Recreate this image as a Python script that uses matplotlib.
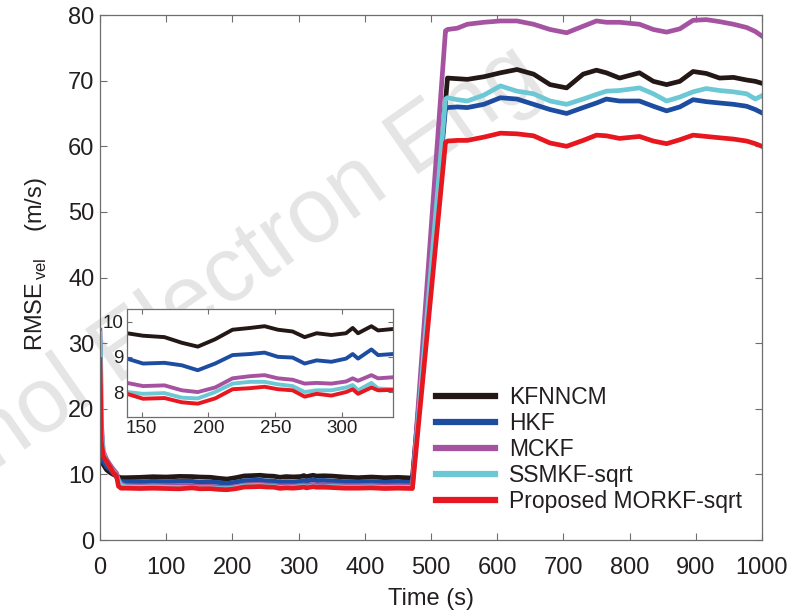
import matplotlib
matplotlib.use('Agg')
import matplotlib.pyplot as plt

plt.rcParams['font.family'] = ['Liberation Sans', 'DejaVu Sans']
plt.rcParams['mathtext.fontset'] = 'custom'
plt.rcParams['mathtext.rm'] = 'Liberation Sans'

# time grid (s): start transient, inset window, before jump, jump, after jump
t = [0, 1, 2, 5, 10, 15, 20, 25, 28, 32, 40, 60, 80, 100, 120,
     139, 151, 167, 180, 192, 205, 218, 231, 242, 252, 263, 272, 281, 292, 303, 308, 312, 322, 327, 338,
     350, 370, 390, 410, 430, 450, 472,
     522,
     525, 540, 555, 580, 605, 630, 655, 680, 705, 730, 750, 765, 785, 815, 836, 856, 876, 896, 916, 936, 957, 977, 990, 1000]

kfnncm = [25, 17, 13, 11.5, 10.7, 10.3, 10.0, 9.8, 9.6, 9.5, 9.5, 9.55, 9.65, 9.6, 9.7,
          9.67, 9.6, 9.56, 9.4, 9.29, 9.5, 9.77, 9.82, 9.87, 9.77, 9.72, 9.56, 9.67, 9.62, 9.67, 9.82, 9.67, 9.87, 9.75, 9.79,
          9.75, 9.6, 9.5, 9.6, 9.5, 9.55, 9.45,
          66.8,
          70.4, 70.3, 70.2, 70.6, 71.2, 71.7, 71.0, 69.4, 68.9, 71.0, 71.6, 71.2, 70.4, 71.2, 69.9, 69.4, 69.9, 71.4, 71.1, 70.4, 70.5, 70.1, 69.9, 69.6]

hkf = [29, 20, 14, 12, 11.2, 10.8, 10.2, 9.6, 9.2, 8.9, 8.9, 8.85, 8.95, 8.9, 8.95,
       8.95, 8.81, 8.83, 8.76, 8.62, 8.81, 9.05, 9.08, 9.12, 9.0, 8.98, 8.81, 8.9, 8.86, 8.95, 9.08, 8.95, 9.21, 9.05, 9.08,
       9.0, 8.9, 8.85, 8.9, 8.8, 8.85, 8.8,
       65.8,
       65.9, 66.0, 65.9, 66.4, 67.4, 67.2, 66.4, 65.6, 65.0, 65.9, 66.6, 67.2, 66.9, 66.9, 66.1, 65.4, 66.0, 67.1, 66.8, 66.6, 66.4, 66.1, 65.6, 65.1]

mckf = [32, 28, 18, 13.5, 12.3, 11.5, 10.8, 10.2, 9.2, 8.5, 8.3, 8.25, 8.3, 8.3, 8.25,
        8.26, 8.17, 8.19, 8.05, 8.0, 8.13, 8.39, 8.45, 8.48, 8.39, 8.35, 8.24, 8.26, 8.24, 8.3, 8.39, 8.32, 8.48, 8.39, 8.42,
        8.4, 8.3, 8.3, 8.35, 8.25, 8.3, 8.25,
        77.6,
        77.8, 78.0, 78.6, 78.9, 79.1, 79.1, 78.6, 77.8, 77.3, 78.3, 79.1, 78.9, 78.9, 78.6, 77.8, 77.4, 77.9, 79.2, 79.3, 79.0, 78.6, 78.1, 77.5, 76.8]

ssmkf = [31.5, 27, 17, 13.2, 12.0, 11.2, 10.5, 9.9, 9.0, 8.3, 8.1, 8.05, 8.1, 8.05, 8.0,
         8.0, 7.95, 7.97, 7.84, 7.82, 8.0, 8.24, 8.29, 8.29, 8.22, 8.17, 8.0, 8.05, 8.05, 8.13, 8.2, 8.05, 8.26, 8.1, 8.08,
         8.15, 8.05, 8.05, 8.1, 8.0, 8.05, 8.0,
         67.2,
         67.4, 67.1, 66.9, 67.8, 69.2, 68.4, 68.0, 66.9, 66.4, 67.2, 67.9, 68.4, 68.5, 68.9, 68.0, 66.9, 67.5, 68.3, 68.8, 68.5, 68.3, 68.0, 67.2, 67.7]

morkf = [27.5, 22, 15, 12.8, 12.0, 11.2, 10.3, 9.8, 8.2, 7.9, 7.9, 7.85, 7.9, 7.85, 7.8,
         7.95, 7.81, 7.83, 7.71, 7.67, 7.82, 8.08, 8.11, 8.15, 8.08, 8.05, 7.87, 7.95, 7.9, 8.0, 8.08, 7.95, 8.13, 8.05, 8.06,
         8.0, 7.9, 7.9, 7.95, 7.85, 7.9, 7.85,
         60.6,
         60.8, 60.9, 60.9, 61.4, 62.0, 61.9, 61.6, 60.5, 60.0, 60.9, 61.7, 61.6, 61.2, 61.5, 60.8, 60.4, 61.0, 61.7, 61.5, 61.3, 61.1, 60.8, 60.4, 60.0]

labels = ['KFNNCM', 'HKF', 'MCKF', 'SSMKF-sqrt', 'Proposed MORKF-sqrt']
colors = ['#231815', '#1d4da1', '#a553a1', '#6cc8d5', '#e8161f']
series = [kfnncm, hkf, mckf, ssmkf, morkf]

spine_col = '#6e6e6e'
text_col = '#231f20'

fig = plt.figure(figsize=(8.06, 6.12), dpi=100)

# journal watermark behind the plot
fig.text(-0.006, 0.232, 'nol Electron Eng', fontsize=66, color='#e5e5e5',
         rotation=35, rotation_mode='anchor', ha='left', va='baseline', zorder=-1)

ax = fig.add_axes([0.124, 0.1176, 0.8213, 0.8578])
ax.patch.set_alpha(0)
for y, lab, c in zip(series, labels, colors):
    ax.plot(t, y, color=c, lw=3.4, label=lab, solid_joinstyle='round')

ax.set_xlim(0, 1000)
ax.set_ylim(0, 80)
ax.set_xticks(range(0, 1001, 100))
ax.set_yticks(range(0, 81, 10))
ax.tick_params(direction='in', length=5, width=0.8, color=spine_col, labelsize=17,
               labelcolor=text_col, top=True, right=True)
ax.tick_params(axis='x', pad=12)
ax.tick_params(axis='y', pad=4)
for s in ax.spines.values():
    s.set_color(spine_col)
    s.set_linewidth(0.9)
ax.set_xlabel('Time (s)', fontsize=17, color=text_col, labelpad=7)
ax.set_ylabel(r'RMSE$_{\,\mathrm{vel}}$    (m/s)', fontsize=17, color=text_col, labelpad=14, y=0.525)

leg = ax.legend(loc='lower left', bbox_to_anchor=(0.507, 0.051), frameon=False,
                fontsize=16.5, handlelength=2.6, handletextpad=0.62,
                labelspacing=0.13, borderpad=0, borderaxespad=0)
for h in leg.get_lines():
    h.set_linewidth(4.5)
for txt in leg.get_texts():
    txt.set_color(text_col)

# zoomed inset of the steady part before the jump
axin = fig.add_axes([0.1576, 0.3191, 0.3297, 0.1755])
for y, c in zip(series, colors):
    axin.plot(t, y, color=c, lw=2.8)
axin.set_xlim(139, 338)
axin.set_ylim(7.3, 10.35)
axin.set_xticks([150, 200, 250, 300])
axin.set_yticks([8, 9, 10])
axin.tick_params(direction='in', length=3.5, width=0.8, color=spine_col, labelsize=13.5,
                 labelcolor=text_col, top=True, right=True, pad=2.5)
for s in axin.spines.values():
    s.set_color(spine_col)
    s.set_linewidth(0.9)

fig.savefig('out.png', dpi=100)
